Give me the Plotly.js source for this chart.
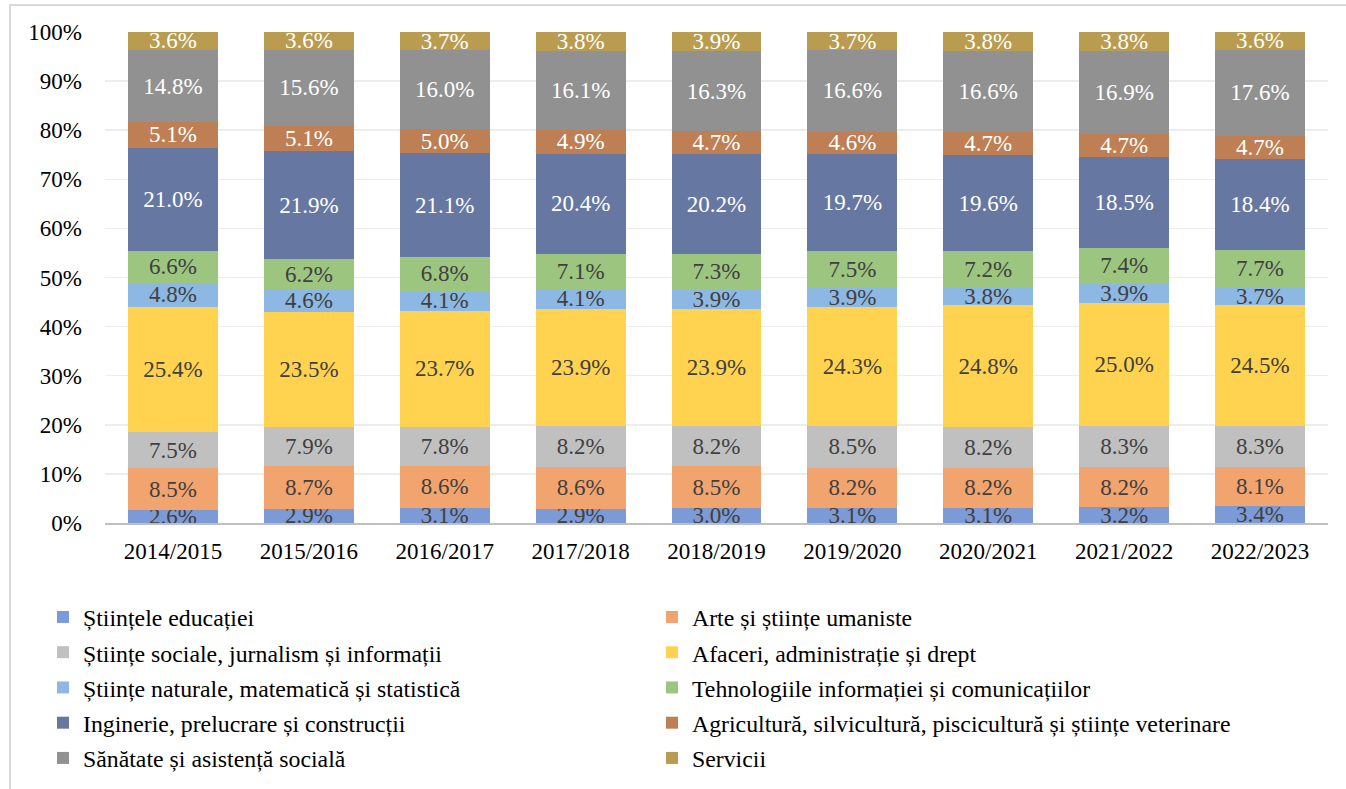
<!DOCTYPE html>
<html>
<head>
<meta charset="utf-8">
<script src="https://cdn.plot.ly/plotly-3.0.1.min.js"></script>
<style>html,body{margin:0;padding:0;background:#fff;}#chart{width:1346px;height:789px;}</style>
</head>
<body>
<div id="chart"></div>
<script>
const years = ["2014/2015","2015/2016","2016/2017","2017/2018","2018/2019","2019/2020","2020/2021","2021/2022","2022/2023"];

const seriesNames = [
  "Științele educației",
  "Arte și științe umaniste",
  "Științe sociale, jurnalism și informații",
  "Afaceri, administrație și drept",
  "Științe naturale, matematică și statistică",
  "Tehnologiile informației și comunicațiilor",
  "Inginerie, prelucrare și construcții",
  "Agricultură, silvicultură, piscicultură și științe veterinare",
  "Sănătate și asistență socială",
  "Servicii"
];

const educatie     = [2.6, 2.9, 3.1, 2.9, 3.0, 3.1, 3.1, 3.2, 3.4];
const arte         = [8.5, 8.7, 8.6, 8.6, 8.5, 8.2, 8.2, 8.2, 8.1];
const sociale      = [7.5, 7.9, 7.8, 8.2, 8.2, 8.5, 8.2, 8.3, 8.3];
const afaceri      = [25.4, 23.5, 23.7, 23.9, 23.9, 24.3, 24.8, 25.0, 24.5];
const naturale     = [4.8, 4.6, 4.1, 4.1, 3.9, 3.9, 3.8, 3.9, 3.7];
const tehnologii   = [6.6, 6.2, 6.8, 7.1, 7.3, 7.5, 7.2, 7.4, 7.7];
const inginerie    = [21.0, 21.9, 21.1, 20.4, 20.2, 19.7, 19.6, 18.5, 18.4];
const agricultura  = [5.1, 5.1, 5.0, 4.9, 4.7, 4.6, 4.7, 4.7, 4.7];
const sanatate     = [14.8, 15.6, 16.0, 16.1, 16.3, 16.6, 16.6, 16.9, 17.6];
const servicii     = [3.6, 3.6, 3.7, 3.8, 3.9, 3.7, 3.8, 3.8, 3.6];

const seriesValues = [educatie, arte, sociale, afaceri, naturale, tehnologii, inginerie, agricultura, sanatate, servicii];
const colors = ["#7C9BD6","#F2A46E","#C0C0C0","#FFD34F","#8CB8E3","#9CC57F","#6678A2","#BD7F53","#919191","#B99C50"];
const labelColors = ["#404040","#404040","#404040","#404040","#404040","#404040","#FFFFFF","#FFFFFF","#FFFFFF","#FFFFFF"];

const FONT = "Liberation Serif";
const FS = 23;

const traces = seriesNames.map((name, i) => ({
  type: "bar",
  name: name,
  x: years,
  y: seriesValues[i],
  text: seriesValues[i].map(v => v.toFixed(1) + "%"),
  texttemplate: "%{text}",
  textposition: "inside",
  insidetextanchor: "middle",
  constraintext: "none",
  cliponaxis: false,
  textfont: {family: FONT, size: FS, color: labelColors[i]},
  marker: {color: colors[i], line: {width: 0}},
  legend: (i % 2 === 0) ? "legend" : "legend2",
  legendgroup: "g" + i,
  hoverinfo: "skip"
}));

// plot area in pixels: left 105, right 1328, top 32, bottom 523
const L = 105, R = 18, T = 32, B = 266, W = 1346, H = 789;
const pw = W - L - R, ph = H - T - B;
const px = x => (x - L) / pw;
const py = y => 1 - (y - T) / ph;
const cx = x => x / W;
const cy = y => 1 - y / H;

const legendCommon = {
  orientation: "v",
  traceorder: "grouped",
  tracegroupgap: 1.3,
  font: {family: FONT, size: 23.8, color: "#000"},
  bgcolor: "rgba(0,0,0,0)",
  xref: "container",
  yref: "container",
  xanchor: "left",
  yanchor: "top",
  itemclick: false,
  itemdoubleclick: false
};

const layout = {
  width: W, height: H,
  margin: {l: L, r: R, t: T, b: B, pad: 0, autoexpand: false},
  paper_bgcolor: "#fff",
  plot_bgcolor: "#fff",
  barmode: "stack",
  barnorm: "percent",
  bargap: 0.338,
  showlegend: true,
  font: {family: FONT, size: FS, color: "#000"},
  xaxis: {
    type: "category",
    showgrid: false,
    showline: true,
    linecolor: "#BFBFBF",
    linewidth: 2,
    ticks: "",
    tickfont: {family: FONT, size: FS, color: "#000"},
    ticklabelstandoff: 6,
    zeroline: false,
    fixedrange: true
  },
  yaxis: {
    range: [0, 100.001],
    tickvals: [0,10,20,30,40,50,60,70,80,90,100],
    ticktext: ["0%","10%","20%","30%","40%","50%","60%","70%","80%","90%","100%"],
    showgrid: true,
    gridcolor: "#EDEDED",
    gridwidth: 1.5,
    zeroline: false,
    showline: false,
    ticks: "",
    tickfont: {family: FONT, size: FS, color: "#000"},
    ticklabelstandoff: 22,
    fixedrange: true
  },
  legend: Object.assign({}, legendCommon, {x: cx(43), y: cy(595)}),
  legend2: Object.assign({}, legendCommon, {x: cx(652), y: cy(595)}),
  shapes: [{
    type: "rect", xref: "paper", yref: "paper",
    x0: px(10), x1: px(1360), y0: py(805), y1: py(5),
    line: {color: "#D9D9D9", width: 2},
    fillcolor: "rgba(0,0,0,0)",
    layer: "below"
  }]
};

Plotly.newPlot("chart", traces, layout, {displayModeBar: false, staticPlot: true});
</script>
</body>
</html>
